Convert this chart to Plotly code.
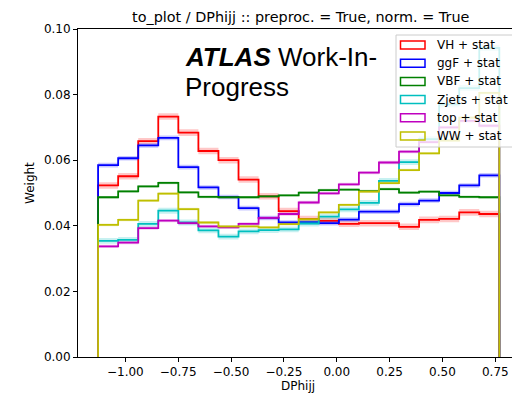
import plotly.graph_objects as go

# ---------------- data ----------------
bin_edges = [-1.129, -1.0341, -0.9392, -0.8443, -0.7494, -0.6545, -0.5596, -0.4647,
             -0.3698, -0.2749, -0.18, -0.0851, 0.0098, 0.1047, 0.1996, 0.2945,
             0.3894, 0.4843, 0.5792, 0.6741, 0.769]

series_names = ["VH", "ggF", "VBF", "Zjets", "top", "WW"]

vh = [0.0523, 0.0551, 0.0658, 0.0733, 0.0684, 0.0628, 0.0600, 0.0541, 0.0490, 0.0445,
      0.0421, 0.0415, 0.0406, 0.0408, 0.0408, 0.0397, 0.0418, 0.0421, 0.0441, 0.0436]
ggf = [0.0585, 0.0606, 0.0645, 0.0668, 0.0579, 0.0517, 0.0488, 0.0454, 0.0424, 0.0410,
       0.0411, 0.0408, 0.0419, 0.0443, 0.0443, 0.0466, 0.0477, 0.0500, 0.0523, 0.0554]
vbf = [0.0487, 0.0505, 0.0520, 0.0531, 0.0502, 0.0488, 0.0487, 0.0487, 0.0490, 0.0493,
       0.0501, 0.0509, 0.0510, 0.0506, 0.0512, 0.0501, 0.0504, 0.0493, 0.0488, 0.0487]
zjets = [0.0354, 0.0357, 0.0406, 0.0446, 0.0410, 0.0386, 0.0367, 0.0383, 0.0387, 0.0389,
         0.0407, 0.0428, 0.0450, 0.0470, 0.0537, 0.0594, 0.0664, 0.0770, 0.0820, 0.0942]
top = [0.0337, 0.0349, 0.0393, 0.0416, 0.0408, 0.0398, 0.0395, 0.0406, 0.0424, 0.0436,
       0.0471, 0.0499, 0.0526, 0.0562, 0.0593, 0.0626, 0.0655, 0.0700, 0.0720, 0.0705]
ww = [0.0403, 0.0418, 0.0477, 0.0498, 0.0451, 0.0410, 0.0398, 0.0398, 0.0395, 0.0405,
      0.0420, 0.0441, 0.0464, 0.0504, 0.0530, 0.0570, 0.0621, 0.0660, 0.0730, 0.0805]
series_values = [vh, ggf, vbf, zjets, top, ww]

# estimated statistical uncertainty (per series)
stat_err = [0.0010, 0.0007, 0.0004, 0.0009, 0.0005, 0.0004]

x_tick_vals = [-1.0, -0.75, -0.5, -0.25, 0.0, 0.25, 0.5, 0.75]
x_tick_text = ["\u22121.00", "\u22120.75", "\u22120.50", "\u22120.25", "0.00", "0.25", "0.50", "0.75"]
y_tick_vals = [0.0, 0.02, 0.04, 0.06, 0.08, 0.10]
y_tick_text = ["0.00", "0.02", "0.04", "0.06", "0.08", "0.10"]

# ---------------- style ----------------
colors = ["#ff0000", "#0000ff", "#008000", "#00bfbf", "#bf00bf", "#bfbf00"]
band_rgb = ["255,0,0", "0,0,255", "0,128,0", "0,191,191", "191,0,191", "191,191,0"]

W_FIG, H_FIG = 512, 393
L, T = 78, 29
PW, PH = W_FIG - L, 328
B = H_FIG - T - PH


def px(x):
    return (x - L) / PW


def py(y):
    return (T + PH - y) / PH


FONT = "DejaVu Sans"

fig = go.Figure()

for name, vals, err, col, rgb in zip(series_names, series_values, stat_err, colors, band_rgb):
    lo = [v - err for v in vals]
    hi = [v + err for v in vals]
    fig.add_trace(go.Scatter(x=bin_edges, y=lo + [lo[-1]], mode="lines", line=dict(width=0, shape="hv"),
                             hoverinfo="skip", showlegend=False))
    fig.add_trace(go.Scatter(x=bin_edges, y=hi + [hi[-1]], mode="lines", line=dict(width=0, shape="hv"),
                             fill="tonexty", fillcolor=f"rgba({rgb},0.22)", hoverinfo="skip",
                             showlegend=False))
    xs = [bin_edges[0]] + bin_edges
    ys = [0.0] + vals + [0.0]
    fig.add_trace(go.Scatter(x=xs, y=ys, mode="lines", name=f"{name} + stat",
                             line=dict(color=col, width=1.8, shape="hv"), showlegend=False))

# ---------------- custom legend (matplotlib style) ----------------
shapes = [dict(type="rect", xref="paper", yref="paper", x0=px(396), x1=px(520), y0=py(147), y1=py(35),
               fillcolor="rgba(255,255,255,0.8)", line=dict(color="#cccccc", width=1), layer="above")]
annotations = []
for i, (name, col) in enumerate(zip(series_names, colors)):
    yc = 45 + i * 18.2
    shapes.append(dict(type="rect", xref="paper", yref="paper", x0=px(400.5), x1=px(425), y0=py(yc + 4),
                       y1=py(yc - 4), line=dict(color=col, width=1.5), fillcolor="rgba(0,0,0,0)",
                       layer="above"))
    annotations.append(dict(text=f"{name} + stat", xref="paper", yref="paper", x=px(435), y=py(yc),
                            xanchor="left", yanchor="middle", showarrow=False,
                            font=dict(family=FONT, size=12, color="#000")))

# title
annotations.append(dict(text="to_plot / DPhijj :: preproc. = True, norm. = True", xref="paper", yref="paper",
                        x=px(300.5), y=py(16.5), xanchor="center", yanchor="middle", showarrow=False,
                        font=dict(family=FONT, size=14.4, color="#000")))
# axis labels
annotations.append(dict(text="DPhijj", xref="paper", yref="paper", x=px(298), y=py(385.5),
                        xanchor="center", yanchor="middle", showarrow=False,
                        font=dict(family=FONT, size=12, color="#000")))
annotations.append(dict(text="Weight", xref="paper", yref="paper", x=px(30), y=py(183),
                        xanchor="center", yanchor="middle", textangle=-90, showarrow=False,
                        font=dict(family=FONT, size=12, color="#000")))
# ATLAS label
annotations.append(dict(text="<b><i>ATLAS</i></b> Work-In-", xref="paper", yref="paper", x=px(183), y=py(57),
                        xanchor="left", yanchor="middle", showarrow=False,
                        font=dict(family="Liberation Sans", size=26, color="#000")))
annotations.append(dict(text="Progress", xref="paper", yref="paper", x=px(183), y=py(87),
                        xanchor="left", yanchor="middle", showarrow=False,
                        font=dict(family="Liberation Sans", size=26, color="#000")))

axis_common = dict(showgrid=False, zeroline=False, showline=True, linecolor="#000", linewidth=1,
                   ticks="outside", ticklen=4, tickwidth=1, tickcolor="#000",
                   tickfont=dict(family=FONT, size=12, color="#000"))

fig.update_layout(
    width=W_FIG, height=H_FIG,
    margin=dict(l=L, r=0, t=T, b=B),
    paper_bgcolor="white", plot_bgcolor="white",
    showlegend=False,
    xaxis=dict(range=[-1.224, -1.224 + PW / 211.4], tickvals=x_tick_vals, ticktext=x_tick_text,
               mirror=True, **axis_common),
    yaxis=dict(range=[0, 0.1], tickvals=y_tick_vals, ticktext=y_tick_text, mirror=False, **axis_common),
    shapes=shapes,
    annotations=annotations,
)

fig.write_html("out.html")
